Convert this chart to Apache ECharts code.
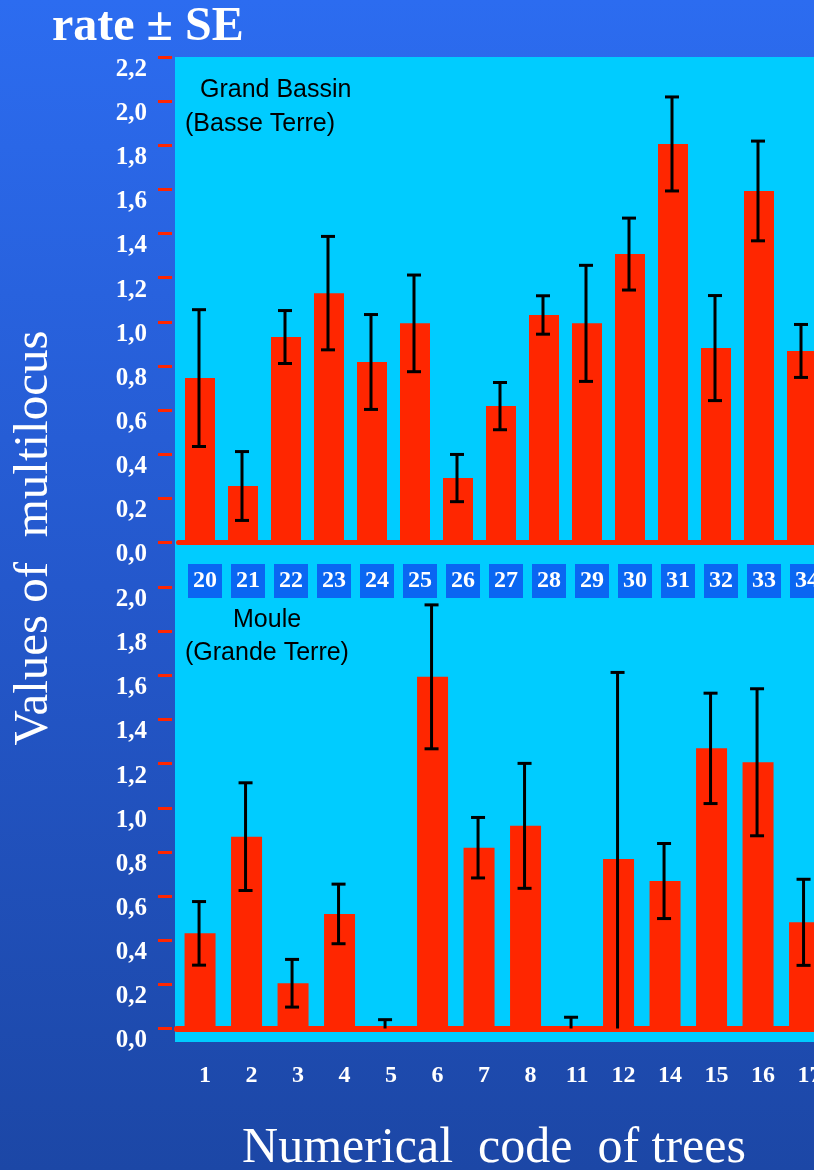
<!DOCTYPE html>
<html><head><meta charset="utf-8">
<script src="https://cdn.jsdelivr.net/npm/echarts/dist/echarts.min.js"></script>
<style>
html,body{margin:0;padding:0;overflow:hidden;width:814px;height:1170px;background:linear-gradient(180deg,#2C6CF0 0%,#2458CC 50%,#1C47A6 100%);}
#c{width:880px;height:1170px;}
</style>
</head><body><div id="c"></div>
<script>
// ---- data ----
const topCats = ['20','21','22','23','24','25','26','27','28','29','30','31','32','33','34'];
const topVals = [0.745, 0.256, 0.931, 1.13, 0.818, 0.993, 0.292, 0.618, 1.031, 0.993, 1.307, 1.806, 0.881, 1.593, 0.868];
const topErr  = [0.31, 0.156, 0.12, 0.257, 0.215, 0.219, 0.107, 0.107, 0.087, 0.263, 0.163, 0.213, 0.238, 0.226, 0.12];
const bottomCats = ['1','2','3','4','5','6','7','8','11','12','14','15','16','17'];
const bottomVals = [0.431, 0.869, 0.205, 0.519, 0, 1.593, 0.819, 0.918, 0, 0.768, 0.668, 1.269, 1.206, 0.481];
const bottomErr  = [0.144, 0.244, 0.108, 0.135, 0.04, 0.326, 0.137, 0.283, 0.051, 0.845, 0.17, 0.25, 0.333, 0.195];
const topMax = 2.2, bottomMax = 2.0, yStep = 0.2;
const titleText = 'rate ± SE';
const yTitle = 'Values of  multilocus';
const xTitle = 'Numerical  code  of trees';
const topPanel = ['Grand Bassin', '(Basse Terre)'];
const bottomPanel = ['Moule', '(Grande Terre)'];

const RED = '#FF2600';
const SERIF = 'Liberation Serif';

const chart = echarts.init(document.getElementById('c'), null, {renderer: 'canvas'});

function fmt(v){ return v.toFixed(1).replace('.', ','); }

function errItem(params, api){
  const i = api.value(0), v = api.value(1), e = api.value(2);
  const hi = api.coord([i, v + e]);
  const lo = api.coord([i, Math.max(0, v - e)]);
  const x = hi[0] - 1, h = 7;
  const style = {stroke: '#000', lineWidth: 3};
  const children = [
    {type: 'line', shape: {x1: x, y1: hi[1], x2: x, y2: lo[1]}, style},
    {type: 'line', shape: {x1: x - h, y1: hi[1], x2: x + h, y2: hi[1]}, style}
  ];
  if (v - e > 0) children.push({type: 'line', shape: {x1: x - h, y1: lo[1], x2: x + h, y2: lo[1]}, style});
  return {type: 'group', children};
}

function yAxisCfg(gi, max, off){
  return {
    type: 'value', gridIndex: gi, min: 0, max: max, interval: yStep, offset: off,
    axisLine: {show: false},
    axisTick: {show: true, length: 14, lineStyle: {color: RED, width: 3}},
    splitLine: {show: false},
    axisLabel: {margin: 25, color: '#fff', fontFamily: SERIF, fontWeight: 'bold', fontSize: 25,
      verticalAlign: 'top', formatter: fmt}
  };
}

const option = {
  animation: false,
  grid: [
    {left: 178.5, top: 57, width: 645, height: 485.5},
    {left: 176.8, top: 587, width: 651, height: 441.5}
  ],
  xAxis: [
    {type: 'category', gridIndex: 0, data: topCats, boundaryGap: true, offset: 2,
      axisLine: {lineStyle: {color: RED, width: 5}},
      axisTick: {alignWithLabel: true, length: 9, lineStyle: {color: RED, width: 3}},
      axisLabel: {interval: 0, margin: 19.5, padding: [0, 0, 0, 10],
        formatter: v => '{b|' + v + '}',
        rich: {b: {backgroundColor: '#0A66F2', color: '#fff', fontFamily: SERIF, fontWeight: 'bold',
          fontSize: 24, width: 34, height: 34, lineHeight: 34, align: 'center'}}}
    },
    {type: 'category', gridIndex: 1, data: bottomCats, boundaryGap: true, offset: 2.5,
      axisLine: {lineStyle: {color: RED, width: 6}},
      axisTick: {alignWithLabel: true, length: 14, lineStyle: {color: RED, width: 3}},
      axisLabel: {interval: 0, margin: 33, padding: [0, 0, 0, 10], color: '#fff',
        fontFamily: SERIF, fontWeight: 'bold', fontSize: 24}
    }
  ],
  yAxis: [yAxisCfg(0, topMax, 6.5), yAxisCfg(1, bottomMax, 4.8)],
  graphic: [
    {type: 'rect', z: -10, shape: {x: 175, y: 57, width: 700, height: 985}, style: {fill: '#00CCFF'}},
    {type: 'text', x: 52, y: 28, style: {text: titleText, fill: '#fff', font: 'bold 48px "Liberation Serif"', verticalAlign: 'middle', align: 'left'}},
    {type: 'text', x: 34, y: 538, rotation: Math.PI / 2, style: {text: yTitle, fill: '#fff', font: '49px "Liberation Serif"', verticalAlign: 'middle', align: 'center'}},
    {type: 'text', x: 494, y: 1149, style: {text: xTitle, fill: '#fff', font: '50px "Liberation Serif"', verticalAlign: 'middle', align: 'center'}},
    {type: 'text', x: 200, y: 90, style: {text: topPanel[0], fill: '#000', font: '25px "Liberation Sans"', verticalAlign: 'middle', align: 'left'}},
    {type: 'text', x: 185, y: 124, style: {text: topPanel[1], fill: '#000', font: '25px "Liberation Sans"', verticalAlign: 'middle', align: 'left'}},
    {type: 'text', x: 233, y: 620, style: {text: bottomPanel[0], fill: '#000', font: '25px "Liberation Sans"', verticalAlign: 'middle', align: 'left'}},
    {type: 'text', x: 185, y: 653, style: {text: bottomPanel[1], fill: '#000', font: '25px "Liberation Sans"', verticalAlign: 'middle', align: 'left'}}
  ],
  series: [
    {type: 'bar', xAxisIndex: 0, yAxisIndex: 0, data: topVals, barWidth: 30, itemStyle: {color: RED}},
    {type: 'custom', xAxisIndex: 0, yAxisIndex: 0, renderItem: errItem, encode: {x: 0, y: 1}, z: 5,
      data: topCats.map((c, i) => [i, topVals[i], topErr[i]])},
    {type: 'bar', xAxisIndex: 1, yAxisIndex: 1, data: bottomVals, barWidth: 31, itemStyle: {color: RED}},
    {type: 'custom', xAxisIndex: 1, yAxisIndex: 1, renderItem: errItem, encode: {x: 0, y: 1}, z: 5,
      data: bottomCats.map((c, i) => [i, bottomVals[i], bottomErr[i]])}
  ]
};
chart.setOption(option);
</script>
</body></html>
